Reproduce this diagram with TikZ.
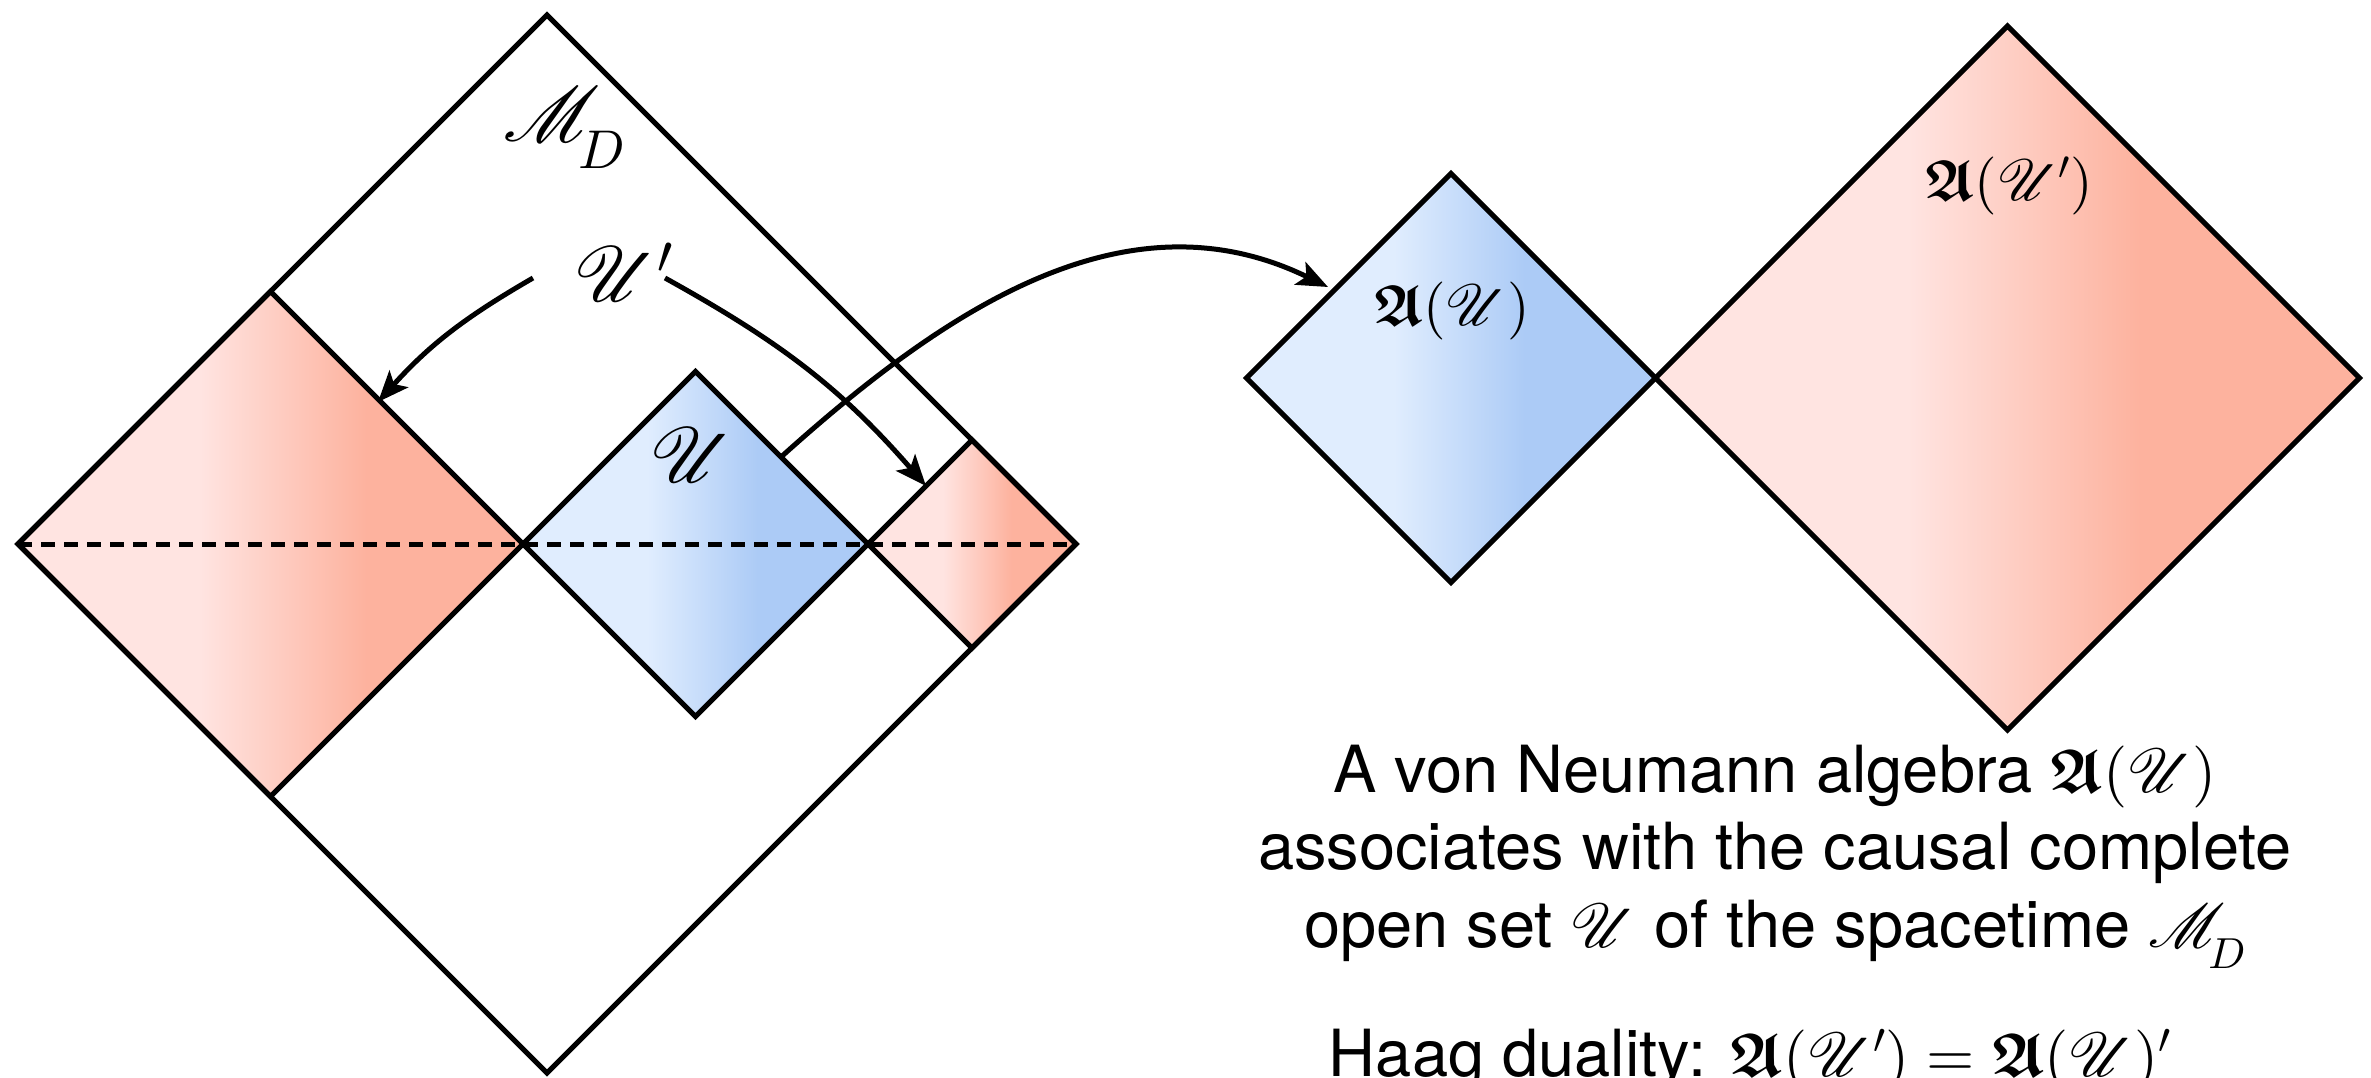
\documentclass[tikz,border=0pt]{standalone}
\usepackage{amsmath}
\usepackage{mathrsfs}
\usepackage{eufrak}
\usepackage[no-math]{fontspec}
\setmainfont{TeX Gyre Heros}
\usetikzlibrary{arrows.meta}
\DeclareFontFamily{U}{euf}{}
\DeclareFontShape{U}{euf}{m}{n}{<->eufm10}{}
\DeclareFontShape{U}{euf}{b}{n}{<->eufb10}{}
\DeclareFontFamily{U}{rsfs}{\skewchar\font127 }
\DeclareFontShape{U}{rsfs}{m}{n}{<->rsfs10}{}
\DeclareFontShape{OML}{cmm}{m}{it}{<->cmmi10}{}
\DeclareFontShape{OML}{cmm}{b}{it}{<->cmmib10}{}
\DeclareFontShape{OMS}{cmsy}{m}{n}{<->cmsy10}{}
\DeclareFontShape{OMS}{cmsy}{b}{n}{<->cmbsy10}{}
\DeclareFontShape{OMX}{cmex}{m}{n}{<->cmex10}{}
\DeclareFontShape{OT1}{cmr}{m}{n}{<->cmr10}{}
\DeclareFontShape{OT1}{cmr}{bx}{n}{<->cmbx10}{}
\definecolor{rpale}{RGB}{255,228,225}
\definecolor{rdark}{RGB}{253,178,158}
\definecolor{bpale}{RGB}{224,237,254}
\definecolor{bdark}{RGB}{172,203,246}
\pgfdeclarehorizontalshading{redsh}{100bp}{color(0bp)=(rpale); color(43bp)=(rpale); color(59.5bp)=(rdark); color(100bp)=(rdark)}
\pgfdeclarehorizontalshading{bluesh}{100bp}{color(0bp)=(bpale); color(43bp)=(bpale); color(59bp)=(bdark); color(100bp)=(bdark)}
\newcommand\bigtxt{\fontsize{65}{78}\selectfont}
\newcommand\mathsz{\fontsize{62}{72}\selectfont}
\newcommand\labsz{\fontsize{78}{90}\selectfont}
\newcommand\rlabsz{\fontsize{58}{64}\selectfont}
\newcommand\fA{\boldsymbol{\mathfrak{A}}}
\newcommand\lowD{_{\!\lower 0.2em\hbox{$\scriptstyle D$}}}
\begin{document}
\begin{tikzpicture}[x=1pt,y=-1pt,
  outline/.style={line width=5pt, line join=miter},
  redfill/.style={shading=redsh},
  bluefill/.style={shading=bluesh},
  dashline/.style={line width=5pt, dash pattern=on 14pt off 9pt},
  arr/.style={line width=5pt, -{Stealth[length=31pt,width=25pt,inset=7pt]}},
  lab/.style={inner sep=0pt, font=\labsz},
  rlab/.style={inner sep=0pt, font=\rlabsz},
  txt/.style={inner sep=0pt, anchor=base, font=\bigtxt}]
\useasboundingbox (0,0) rectangle (2371,1078);
% big diamond M_D
\coordinate (MT) at (547,15);
\coordinate (ML) at (18,544);
\coordinate (MR) at (1076,544);
\coordinate (MB) at (547,1073);
% left red diamond
\coordinate (LT) at (270.5,291.5);
\coordinate (LR) at (523,544);
\coordinate (LB) at (270.5,796.5);
% blue diamond U
\coordinate (UT) at (695.5,371.5);
\coordinate (UR) at (868,544);
\coordinate (UB) at (695.5,716.5);
% small red diamond
\coordinate (ST) at (972,440);
\coordinate (SB) at (972,648);
% right blue diamond
\coordinate (BT) at (1451,173.5);
\coordinate (BL) at (1246.5,378);
\coordinate (BR) at (1655.5,378);
\coordinate (BB) at (1451,582.5);
% right red diamond
\coordinate (RT) at (2007.5,26);
\coordinate (RR) at (2359.5,378);
\coordinate (RB) at (2007.5,730);

% fills
\path[redfill] (ML) -- (LT) -- (LR) -- (LB) -- cycle;
\path[bluefill] (LR) -- (UT) -- (UR) -- (UB) -- cycle;
\path[redfill] (UR) -- (ST) -- (MR) -- (SB) -- cycle;
\path[bluefill] (BL) -- (BT) -- (BR) -- (BB) -- cycle;
\path[redfill] (BR) -- (RT) -- (RR) -- (RB) -- cycle;

% outlines
\draw[outline] (ML) -- (MT) -- (MR) -- (MB) -- cycle;
\draw[outline] (ML) -- (LT) -- (LR) -- (LB) -- cycle;
\draw[outline] (LR) -- (UT) -- (UR) -- (UB) -- cycle;
\draw[outline] (UR) -- (ST) -- (MR) -- (SB) -- cycle;
\draw[outline] (BL) -- (BT) -- (BR) -- (BB) -- cycle;
\draw[outline] (BR) -- (RT) -- (RR) -- (RB) -- cycle;
\draw[dashline] (ML) -- (MR);

% labels
\node[lab] (MD) at (565,128) {$\mathscr{M}\lowD$};
\node[lab] (Up) at (624,272) {$\mathscr{U}'$};
\node[lab] (U) at (692,455) {$\mathscr{U}$};
\node[rlab] (AU) at (1452,311) {$\fA(\mathscr{U})$};
\node[rlab] (AUp) at (2009,186) {$\fA(\mathscr{U}')$};

% arrows
\coordinate (a1s) at (533,278);
\coordinate (a1e) at (378,402);
\coordinate (a2s) at (665,278);
\coordinate (a2e) at (926,486);
\coordinate (b1s) at (781,457);
\coordinate (b1e) at (1328,287);
\draw[arr] (a1s) to[out=210,in=48] (a1e);
\draw[arr] (a2s) to[out=-29,in=131] (a2e);
\draw[arr] (b1s) to[out=42,in=154] (b1e);

% text
\node[txt] (t1) at (1775,792) {A von Neumann algebra {\mathsz$\fA(\mathscr{U})$}};
\node[txt] (t2) at (1775,869) {associates with the causal complete};
\node[txt] (t3) at (1775,947) {open set {\mathsz$\mathscr{U}$} of the spacetime {\mathsz$\mathscr{M}\lowD$}};
\node[txt] (t4) at (1750,1076) {Haag duality: {\mathsz$\fA(\mathscr{U}') = \fA(\mathscr{U})'$}};
\end{tikzpicture}
\end{document}
